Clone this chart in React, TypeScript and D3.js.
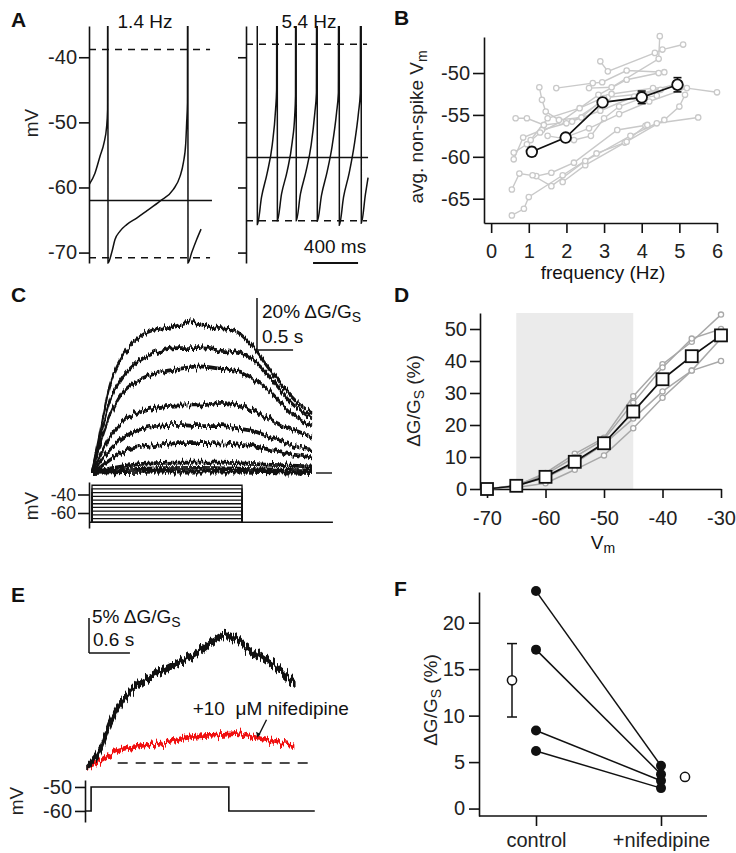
import React, { useEffect, useRef } from "react";
import * as d3 from "d3";

type Pt = [number, number];

// ---- A: firing at two rates (time in ms, membrane potential in mV) ----
const aTicks = [-70, -60, -50, -40];
const slowRate = "1.4 Hz";
const fastRate = "5.4 Hz";
const slowTrace: Pt[] = [
  [0, -59.6], [53, -57.8], [98, -55.2], [133, -53.2], [157, -50.6], [165, -48], [167, 25],
  [169, -71.6], [202, -70.0], [231, -68.0], [276, -66.7], [335, -65.7], [424, -64.7], [513, -63.6],
  [631, -62.1], [750, -60.3], [809, -58.3], [839, -56.2], [860, -53.2], [868, -50.1], [875, -47], [878, 25],
  [880, -71.6], [913, -70.0], [957, -68.0], [996, -66.4],
];
const fastTrace: Pt[] = [
  [98, 25], [101, -65.7], [138, -61.5], [188, -57.8], [233, -53.5], [263, -48], [272, -45],
  [276, 25], [279, -65.1], [316, -61.0], [366, -57.5], [411, -53.0], [433, -49], [440, -46],
  [444, 25], [447, -65.1], [484, -61.0], [534, -57.5], [579, -53.5], [612, -48.5], [626, -45.5],
  [631, 25], [634, -65.2], [671, -61.2], [721, -57.6], [766, -53.6], [805, -48.5], [821, -45.5],
  [827, 25], [830, -65.8], [867, -61.5], [917, -57.8], [962, -53.5], [1000, -48.5], [1016, -45.5],
  [1022, 25], [1025, -65.5], [1062, -61.0], [1085, -58.5],
];
const slowDashed = [-38.8, -70.8];
const slowMean = -62.0;
const fastDashed = [-38.0, -65.1];
const fastMean = -55.4;

// ---- B: mean non-spike Vm vs firing frequency ----
const freqTicks = [0, 1, 2, 3, 4, 5, 6];
const vmTicks = [-65, -60, -55, -50];
const cellCurves: Pt[][] = [
  [[0.55, -67.0], [0.87, -66.2], [1.0, -64.8], [1.9, -62.2], [2.8, -59.6], [3.55, -58.3], [4.1, -56.3]],
  [[0.55, -63.9], [0.75, -62.0], [1.2, -62.3], [1.6, -61.9], [2.2, -60.7], [3.35, -56.8], [4.15, -56.2]],
  [[0.6, -60.3], [0.85, -57.7], [1.35, -56.8], [2.0, -56.0], [2.9, -54.5], [3.8, -52.8], [4.5, -52.0]],
  [[0.6, -59.5], [0.95, -58.5], [1.3, -57.1], [1.85, -55.8], [2.85, -52.6], [3.6, -50.8], [4.45, -50.0]],
  [[0.65, -55.4], [0.95, -55.4], [1.4, -56.2], [2.15, -55.8], [3.1, -52.9], [3.95, -52.5], [5.0, -51.2]],
  [[1.28, -51.7], [1.35, -53.2], [1.45, -54.6], [1.8, -55.6], [2.4, -55.3], [3.0, -53.0]],
  [[1.73, -51.8], [2.7, -51.2], [2.95, -51.1], [3.6, -49.7], [4.6, -49.9]],
  [[2.9, -48.6], [3.1, -49.8], [4.35, -47.6], [4.55, -47.2], [5.1, -46.6]],
  [[2.6, -51.8], [3.2, -51.7], [4.45, -48.3], [4.48, -45.6]],
  [[1.9, -63.0], [2.5, -61.0], [3.6, -58.2], [4.6, -55.6], [5.0, -54.0], [5.15, -52.6]],
  [[1.1, -62.2], [1.6, -63.5], [2.5, -60.5], [3.7, -57.5], [4.4, -56.0], [5.5, -55.3]],
  [[1.5, -57.5], [1.9, -57.8], [2.6, -56.6], [3.4, -54.9], [4.2, -53.4], [5.2, -51.8], [6.0, -52.3]],
  [[1.05, -58.0], [1.5, -55.4], [2.35, -54.2], [3.2, -52.5], [4.3, -51.8], [5.05, -51.6]],
  [[2.2, -58.0], [2.65, -57.5], [3.0, -55.4], [3.4, -54.0], [4.0, -53.0], [4.4, -52.7]],
];
const meanFreq = [1.08, 1.98, 2.96, 4.0, 4.95];
const meanVm = [-59.4, -57.7, -53.5, -52.9, -51.4];
const semVm = [0.5, 0.45, 0.4, 0.75, 0.85];

// ---- C: dG/Gs responses to voltage steps (time s, %) ----
const cTraces: Pt[][] = [
  [[0, 0], [0.1, 14], [0.25, 34], [0.35, 41], [0.57, 50], [0.85, 55], [1.1, 56], [1.4, 58], [1.7, 56], [1.96, 55], [2.15, 51], [2.3, 46], [2.43, 41], [2.65, 33], [2.85, 27], [3.05, 23]],
  [[0, 0], [0.1, 12], [0.25, 28], [0.4, 36], [0.6, 42], [0.85, 46], [1.2, 48], [1.5, 48], [1.8, 47], [2.05, 46], [2.2, 44], [2.4, 39], [2.6, 32], [2.8, 26], [3.05, 21]],
  [[0, 0], [0.1, 10], [0.25, 22], [0.4, 30], [0.6, 35], [0.85, 38], [1.2, 40], [1.5, 41], [1.8, 40], [2.05, 39], [2.25, 36], [2.45, 32], [2.65, 26], [2.85, 21], [3.05, 18]],
  [[0, 0], [0.1, 6], [0.25, 14], [0.4, 19], [0.6, 23], [0.85, 25], [1.2, 26], [1.5, 26], [1.8, 27], [2.05, 26], [2.25, 24], [2.45, 21], [2.65, 18], [2.85, 16], [3.05, 14]],
  [[0, 0], [0.1, 4], [0.25, 9], [0.4, 13], [0.6, 16], [0.85, 18], [1.2, 18.5], [1.5, 18], [1.8, 18], [2.05, 17], [2.25, 16], [2.45, 14], [2.65, 12], [2.85, 10], [3.05, 9]],
  [[0, 0], [0.15, 3], [0.3, 6], [0.5, 9], [0.8, 10.5], [1.2, 11.5], [1.6, 11.5], [2.0, 11], [2.3, 10], [2.6, 8], [3.05, 6]],
  [[0, 0], [0.3, 2], [0.7, 3.5], [1.2, 4], [1.8, 4], [2.2, 3.5], [2.6, 3], [3.05, 2.5]],
  [[0, 0], [0.5, 1.5], [1.5, 2], [2.3, 1.5], [3.05, 1]],
  [[0, 0], [1, 0.5], [2, 0.5], [3.05, 0]],
];
const stepLevels = [-70, -66, -62, -58, -54, -50, -46, -42, -38, -34, -30];
const stepEnd = 2.08;
const cCmdTicks = [-60, -40];

// ---- D: dG/Gs vs Vm ----
const dVm = [-70, -65, -60, -55, -50, -45, -40, -35, -30];
const dMean = [0, 1.0, 3.8, 8.5, 14.3, 24.2, 34.3, 41.5, 48];
const dCells = [
  [0, 1.0, 5.0, 11, 16, 29, 39, 46, 54.5],
  [0, 1.2, 4.5, 10, 15.5, 27, 38, 47, 50],
  [0, 1.0, 3.5, 8, 14, 22, 30.5, 37, 40],
  [0, 0.5, 1.8, 6, 10.5, 19, 28.5, 37, 47],
];
const dXTicks = [-70, -60, -50, -40, -30];
const dYTicks = [0, 10, 20, 30, 40, 50];
const activeRange = [-65, -45];

// ---- E: single response, control vs nifedipine (time s, %) ----
const eControl: Pt[] = [
  [0, -0.5], [0.19, 1.9], [0.34, 5.7], [0.53, 9.0], [0.78, 11.4], [1.07, 13.0], [1.31, 14.2], [1.56, 15.4],
  [1.85, 17.3], [2.05, 18.3], [2.14, 18.0], [2.34, 16.6], [2.63, 14.7], [2.87, 13.0], [3.05, 11.4],
];
const eNifed: Pt[] = [
  [0, -0.5], [0.19, 0.2], [0.43, 1.6], [0.77, 2.3], [1.17, 3.0], [1.56, 3.8], [1.9, 4.0], [2.19, 4.2],
  [2.53, 3.5], [2.78, 3.0], [3.04, 2.6],
];
const eCommand: Pt[] = [[-0.03, -60], [0.06, -60], [0.06, -50], [2.08, -50], [2.08, -60], [3.34, -60]];
const eCmdTicks = [-60, -50];

// ---- F: paired amplitudes ----
const fGroups = ["control", "+nifedipine"];
const fControl = [23.4, 17.1, 8.4, 6.2];
const fNifed = [4.6, 3.7, 3.0, 2.2];
const fMean = [13.8, 3.4];
const fSem = [3.95, 0];
const fTicks = [0, 5, 10, 15, 20];

const FONT = "'Liberation Sans', Arial, Helvetica, sans-serif";
const INK = "#111";
const plain = (d: any) => String(d);

export default function App() {
  const ref = useRef<SVGSVGElement>(null);

  useEffect(() => {
    const svg = d3.select(ref.current);
    svg.selectAll("*").remove();
    svg.attr("font-family", FONT);

    const defs = svg.append("defs");
    // vertical-only jitter for the noisy recordings, then a little vertical thickening
    const jitter = (id: string, freq: number, scale: number, seed: number, grow: number) => {
      const f = defs.append("filter").attr("id", id)
        .attr("filterUnits", "userSpaceOnUse")
        .attr("x", 0).attr("y", 0).attr("width", 736).attr("height", 853)
        .attr("color-interpolation-filters", "sRGB");
      f.append("feTurbulence").attr("type", "fractalNoise")
        .attr("baseFrequency", `${freq} 0.03`).attr("numOctaves", 3).attr("seed", seed).attr("result", "n");
      f.append("feColorMatrix").attr("in", "n").attr("type", "matrix")
        .attr("values", "0 0 0 0 0.5  0 1 0 0 0  0 0 0 0 0  0 0 0 0 1").attr("result", "m");
      f.append("feDisplacementMap").attr("in", "SourceGraphic").attr("in2", "m")
        .attr("scale", scale).attr("xChannelSelector", "R").attr("yChannelSelector", "G").attr("result", "d");
      f.append("feMorphology").attr("in", "d").attr("operator", "dilate").attr("radius", `0 ${grow}`);
    };
    jitter("noiseC", 0.5, 10, 4, 0.6);
    jitter("noiseE", 0.45, 15, 9, 1.6);
    jitter("noiseR", 0.45, 13, 2, 1.3);

    const styleAxis = (g: any, size = 20) => {
      g.attr("font-family", FONT).attr("font-size", size);
      g.selectAll(".domain, .tick line").attr("stroke", INK).attr("stroke-width", 1.6);
      g.selectAll(".tick text").attr("fill", "#222");
      return g;
    };
    const txt = (x: number, y: number, s: string, size = 19, anchor = "start") =>
      svg.append("text").attr("x", x).attr("y", y).attr("font-size", size)
        .attr("text-anchor", anchor).attr("fill", INK).text(s);
    const vtxt = (x: number, y: number) =>
      svg.append("text").attr("transform", `translate(${x},${y}) rotate(-90)`)
        .attr("text-anchor", "middle").attr("font-size", 19).attr("fill", "#222");
    const withSub = (t: any, main: string, s: string, rest = "") => {
      t.append("tspan").text(main);
      t.append("tspan").attr("font-size", 14).attr("dy", 4).text(s);
      if (rest) t.append("tspan").attr("dy", -4).text(rest);
      return t;
    };
    const hline = (x1: number, x2: number, y: number, w = 1.5, dash = "") =>
      svg.append("line").attr("x1", x1).attr("x2", x2).attr("y1", y).attr("y2", y)
        .attr("stroke", INK).attr("stroke-width", w).attr("stroke-dasharray", dash || null);
    const vline = (x: number, y1: number, y2: number, w = 1.5) =>
      svg.append("line").attr("x1", x).attr("x2", x).attr("y1", y1).attr("y2", y2)
        .attr("stroke", INK).attr("stroke-width", w);

    // panel letters
    ([["A", 11, 27], ["B", 394, 25], ["C", 11, 302], ["D", 394, 302], ["E", 11, 602], ["F", 394, 596]] as [string, number, number][])
      .forEach(([l, x, y]) => txt(x, y, l, 21).attr("font-weight", "bold"));

    // ================= A =================
    const yA = d3.scaleLinear().domain([-71.6, -35.2]).range([263, 26]);
    const xSlow = d3.scaleLinear().domain([0, 1000]).range([89, 201.5]);
    const xFast = d3.scaleLinear().domain([0, 1000]).range([246, 358.5]);

    styleAxis(svg.append("g").attr("transform", "translate(89,0)")
      .call(d3.axisLeft(yA).tickValues(aTicks).tickFormat(plain).tickSize(10).tickPadding(2).tickSizeOuter(0)));
    styleAxis(svg.append("g").attr("transform", "translate(246,0)")
      .call(d3.axisLeft(yA).tickValues(aTicks).tickSize(8).tickFormat(() => "").tickSizeOuter(0)));
    vtxt(38, 123).text("mV");

    defs.append("clipPath").attr("id", "clipA1").append("rect")
      .attr("x", 89).attr("y", 26).attr("width", 126).attr("height", 239);
    defs.append("clipPath").attr("id", "clipA2").append("rect")
      .attr("x", 246).attr("y", 26).attr("width", 126).attr("height", 239);

    slowDashed.forEach((v) => hline(xSlow(0), xSlow(1076), yA(v), 1.5, "7 6"));
    hline(xSlow(0), xSlow(1093), yA(slowMean), 1.6);
    fastDashed.forEach((v) => hline(xFast(0), xFast(1076), yA(v), 1.5, "7 6"));
    hline(xFast(0), xFast(1085), yA(fastMean), 1.6);

    const lineSlow = d3.line<Pt>().x((d) => xSlow(d[0])).y((d) => yA(d[1])).curve(d3.curveMonotoneX);
    const lineFast = d3.line<Pt>().x((d) => xFast(d[0])).y((d) => yA(d[1])).curve(d3.curveMonotoneX);
    svg.append("path").attr("clip-path", "url(#clipA1)").attr("d", lineSlow(slowTrace))
      .attr("fill", "none").attr("stroke", INK).attr("stroke-width", 1.5);
    svg.append("path").attr("clip-path", "url(#clipA2)").attr("d", lineFast(fastTrace))
      .attr("fill", "none").attr("stroke", INK).attr("stroke-width", 1.5);

    txt(145, 28, slowRate, 19, "middle");
    txt(309, 28, fastRate, 19, "middle");
    hline(xFast(596), xFast(996), 263, 1.8);
    txt(335, 253, "400 ms", 19, "middle");

    // ================= B =================
    const xB = d3.scaleLinear().domain([-0.19, 6]).range([484, 717]);
    const yB = d3.scaleLinear().domain([-67.9, -45.7]).range([223, 37]);
    styleAxis(svg.append("g").attr("transform", "translate(0,223)")
      .call(d3.axisBottom(xB).tickValues(freqTicks).tickFormat(plain).tickSize(10).tickPadding(11).tickSizeOuter(0)));
    styleAxis(svg.append("g").attr("transform", "translate(484,0)")
      .call(d3.axisLeft(yB).tickValues(vmTicks).tickFormat(plain).tickSize(11).tickPadding(3).tickSizeOuter(0)));
    txt(603, 279, "frequency (Hz)", 19, "middle");
    withSub(vtxt(423, 127), "avg. non-spike V", "m");

    const lineB = d3.line<Pt>().x((d) => xB(d[0])).y((d) => yB(d[1]));
    const grayB = "#c9c9c9";
    cellCurves.forEach((c) => {
      svg.append("path").attr("d", lineB(c)).attr("fill", "none").attr("stroke", grayB).attr("stroke-width", 1.4);
    });
    cellCurves.forEach((c) => {
      svg.append("g").selectAll("circle").data(c).enter().append("circle")
        .attr("cx", (d) => xB(d[0])).attr("cy", (d) => yB(d[1])).attr("r", 2.7)
        .attr("fill", "white").attr("stroke", grayB).attr("stroke-width", 1.3);
    });
    const meanB: Pt[] = meanFreq.map((f, i) => [f, meanVm[i]]);
    svg.append("path").attr("d", lineB(meanB)).attr("fill", "none").attr("stroke", INK).attr("stroke-width", 1.7);
    meanB.forEach((d, i) => {
      const x = xB(d[0]);
      vline(x, yB(d[1] - semVm[i]), yB(d[1] + semVm[i]), 1.6);
      hline(x - 4, x + 4, yB(d[1] - semVm[i]), 1.6);
      hline(x - 4, x + 4, yB(d[1] + semVm[i]), 1.6);
    });
    svg.append("g").selectAll("circle").data(meanB).enter().append("circle")
      .attr("cx", (d) => xB(d[0])).attr("cy", (d) => yB(d[1])).attr("r", 5.3)
      .attr("fill", "white").attr("stroke", INK).attr("stroke-width", 1.8);

    // ================= C =================
    const xC = d3.scaleLinear().domain([0, 3.05]).range([92, 312]);
    const yC = d3.scaleLinear().domain([0, 20]).range([473, 421]);
    const yCv = d3.scaleLinear().domain([-76.2, -26.5]).range([528, 482]);
    const lineC = d3.line<Pt>().x((d) => xC(d[0])).y((d) => yC(d[1])).curve(d3.curveMonotoneX);
    const gC = svg.append("g").attr("filter", "url(#noiseC)");
    cTraces.forEach((t) => {
      gC.append("path").attr("d", lineC(t)).attr("fill", "none").attr("stroke", INK).attr("stroke-width", 1.8);
    });
    hline(316, 332, yC(0), 1.4);
    // scale bar
    vline(257, 350 - (yC(0) - yC(20)), 350, 1.5);
    hline(257, 257 + xC(0.5) - xC(0), 350, 1.5);
    withSub(txt(262, 318, ""), "20% ΔG/G", "S");
    txt(262, 343, "0.5 s");

    styleAxis(svg.append("g").attr("transform", "translate(89,0)")
      .call(d3.axisLeft(yCv).tickValues(cCmdTicks).tickFormat(plain).tickSize(11).tickPadding(2).tickSizeOuter(0)), 17.5);
    vtxt(38, 506).text("mV");
    const lineCv = d3.line<Pt>().x((d) => xC(d[0])).y((d) => yCv(d[1]));
    stepLevels.forEach((v) => {
      svg.append("path").attr("d", lineCv([[0, -70], [0, v], [stepEnd, v], [stepEnd, -70]]))
        .attr("fill", "none").attr("stroke", INK).attr("stroke-width", 1.3);
    });
    svg.append("path").attr("d", lineCv([[-0.04, -70], [3.34, -70]]))
      .attr("fill", "none").attr("stroke", INK).attr("stroke-width", 1.4);

    // ================= D =================
    const xD = d3.scaleLinear().domain([-71.2, -30]).range([480, 721]);
    const yD = d3.scaleLinear().domain([0, 55]).range([489, 313]);
    svg.append("rect").attr("x", xD(activeRange[0])).attr("y", yD(55))
      .attr("width", xD(activeRange[1]) - xD(activeRange[0])).attr("height", yD(0) - yD(55))
      .attr("fill", "#ebebeb");
    styleAxis(svg.append("g").attr("transform", "translate(0,489)")
      .call(d3.axisBottom(xD).tickValues(dXTicks).tickFormat(plain).tickSize(9).tickPadding(13).tickSizeOuter(0)));
    styleAxis(svg.append("g").attr("transform", "translate(480,0)")
      .call(d3.axisLeft(yD).tickValues(dYTicks).tickFormat(plain).tickSize(10).tickPadding(3).tickSizeOuter(0)));
    withSub(txt(603, 549, "", 19, "middle"), "V", "m");
    withSub(vtxt(420, 401), "ΔG/G", "S", " (%)");

    const lineD = d3.line<number>().x((_, i) => xD(dVm[i])).y((d) => yD(d));
    const grayD = "#a8a8a8";
    dCells.forEach((c) => {
      svg.append("path").attr("d", lineD(c)).attr("fill", "none").attr("stroke", grayD).attr("stroke-width", 1.5);
      svg.append("g").selectAll("circle").data(c).enter().append("circle")
        .attr("cx", (_, i) => xD(dVm[i])).attr("cy", (d) => yD(d)).attr("r", 2.6)
        .attr("fill", "white").attr("stroke", grayD).attr("stroke-width", 1.3);
    });
    svg.append("path").attr("d", lineD(dMean)).attr("fill", "none").attr("stroke", INK).attr("stroke-width", 1.7);
    svg.append("g").selectAll("rect").data(dMean).enter().append("rect")
      .attr("x", (_, i) => xD(dVm[i]) - 6).attr("y", (d) => yD(d) - 6)
      .attr("width", 12).attr("height", 12)
      .attr("fill", "white").attr("stroke", INK).attr("stroke-width", 1.8);

    // ================= E =================
    const xE = d3.scaleLinear().domain([0, 3.05]).range([87, 295]);
    const yE = d3.scaleLinear().domain([0, 5]).range([763, 728]);
    const yEv = d3.scaleLinear().domain([-64.6, -47.1]).range([822, 780]);
    const lineE = d3.line<Pt>().x((d) => xE(d[0])).y((d) => yE(d[1])).curve(d3.curveMonotoneX);

    hline(xE(0.45), xE(3.34), yE(0), 1.5, "10 8");
    svg.append("g").attr("filter", "url(#noiseR)").append("path").attr("d", lineE(eNifed))
      .attr("fill", "none").attr("stroke", "#f01010").attr("stroke-width", 2.6);
    svg.append("g").attr("filter", "url(#noiseE)").append("path").attr("d", lineE(eControl))
      .attr("fill", "none").attr("stroke", INK).attr("stroke-width", 3);

    // scale bar
    vline(89, 653 - (yE(0) - yE(5)), 653, 1.5);
    hline(89, 89 + xE(0.6) - xE(0), 653, 1.5);
    withSub(txt(92, 623, ""), "5% ΔG/G", "S");
    txt(93, 646, "0.6 s");

    // annotation
    txt(xE(1.55), yE(6.9), "+10\u00a0 μM nifedipine");
    const ax = xE(2.5), ay = yE(3.6);
    svg.append("line").attr("x1", ax + 9).attr("y1", ay - 18).attr("x2", ax + 1).attr("y2", ay - 2)
      .attr("stroke", INK).attr("stroke-width", 1.4);
    svg.append("path").attr("d", `M${ax},${ay} l-1.5,-6 l4.5,2.2 z`).attr("fill", INK);

    styleAxis(svg.append("g").attr("transform", "translate(85,0)")
      .call(d3.axisLeft(yEv).tickValues(eCmdTicks).tickFormat(plain).tickSize(10).tickPadding(3).tickSizeOuter(0)));
    vtxt(23, 801).text("mV");
    const lineEv = d3.line<Pt>().x((d) => xE(d[0])).y((d) => yEv(d[1]));
    svg.append("path").attr("d", lineEv(eCommand)).attr("fill", "none").attr("stroke", INK).attr("stroke-width", 1.6);

    // ================= F =================
    const xF = d3.scalePoint<string>().domain(fGroups).range([536, 661]);
    const yF = d3.scaleLinear().domain([-0.8, 23.3]).range([816, 592]);
    styleAxis(svg.append("g").attr("transform", "translate(479,0)")
      .call(d3.axisLeft(yF).tickValues(fTicks).tickFormat(plain).tickSize(10).tickPadding(4).tickSizeOuter(0)));
    const axF = styleAxis(svg.append("g").attr("transform", "translate(0,816)")
      .call(d3.axisBottom(xF).tickSize(10).tickPadding(7).tickSizeOuter(0)));
    axF.select(".domain").remove();
    hline(479, 707, 816, 1.6);
    withSub(vtxt(437, 700), "ΔG/G", "S", " (%)");

    const xc = xF("control") as number;
    const xn = xF("+nifedipine") as number;
    fControl.forEach((v, i) => {
      svg.append("line").attr("x1", xc).attr("y1", yF(v)).attr("x2", xn).attr("y2", yF(fNifed[i]))
        .attr("stroke", INK).attr("stroke-width", 1.5);
    });
    [...fControl.map((v) => [xc, v]), ...fNifed.map((v) => [xn, v])].forEach(([x, v]) => {
      svg.append("circle").attr("cx", x).attr("cy", yF(v)).attr("r", 5).attr("fill", INK);
    });
    [xc - 24, xn + 24].forEach((x, i) => {
      if (fSem[i] > 0) {
        vline(x, yF(fMean[i] - fSem[i]), yF(fMean[i] + fSem[i]), 1.5);
        hline(x - 5, x + 5, yF(fMean[i] - fSem[i]), 1.5);
        hline(x - 5, x + 5, yF(fMean[i] + fSem[i]), 1.5);
      }
      svg.append("circle").attr("cx", x).attr("cy", yF(fMean[i])).attr("r", 4.6)
        .attr("fill", "white").attr("stroke", INK).attr("stroke-width", 1.5);
    });
  }, []);

  return (
    <svg
      ref={ref}
      width={736}
      height={853}
      style={{ position: "absolute", left: 0, top: 0, background: "white" }}
    />
  );
}
